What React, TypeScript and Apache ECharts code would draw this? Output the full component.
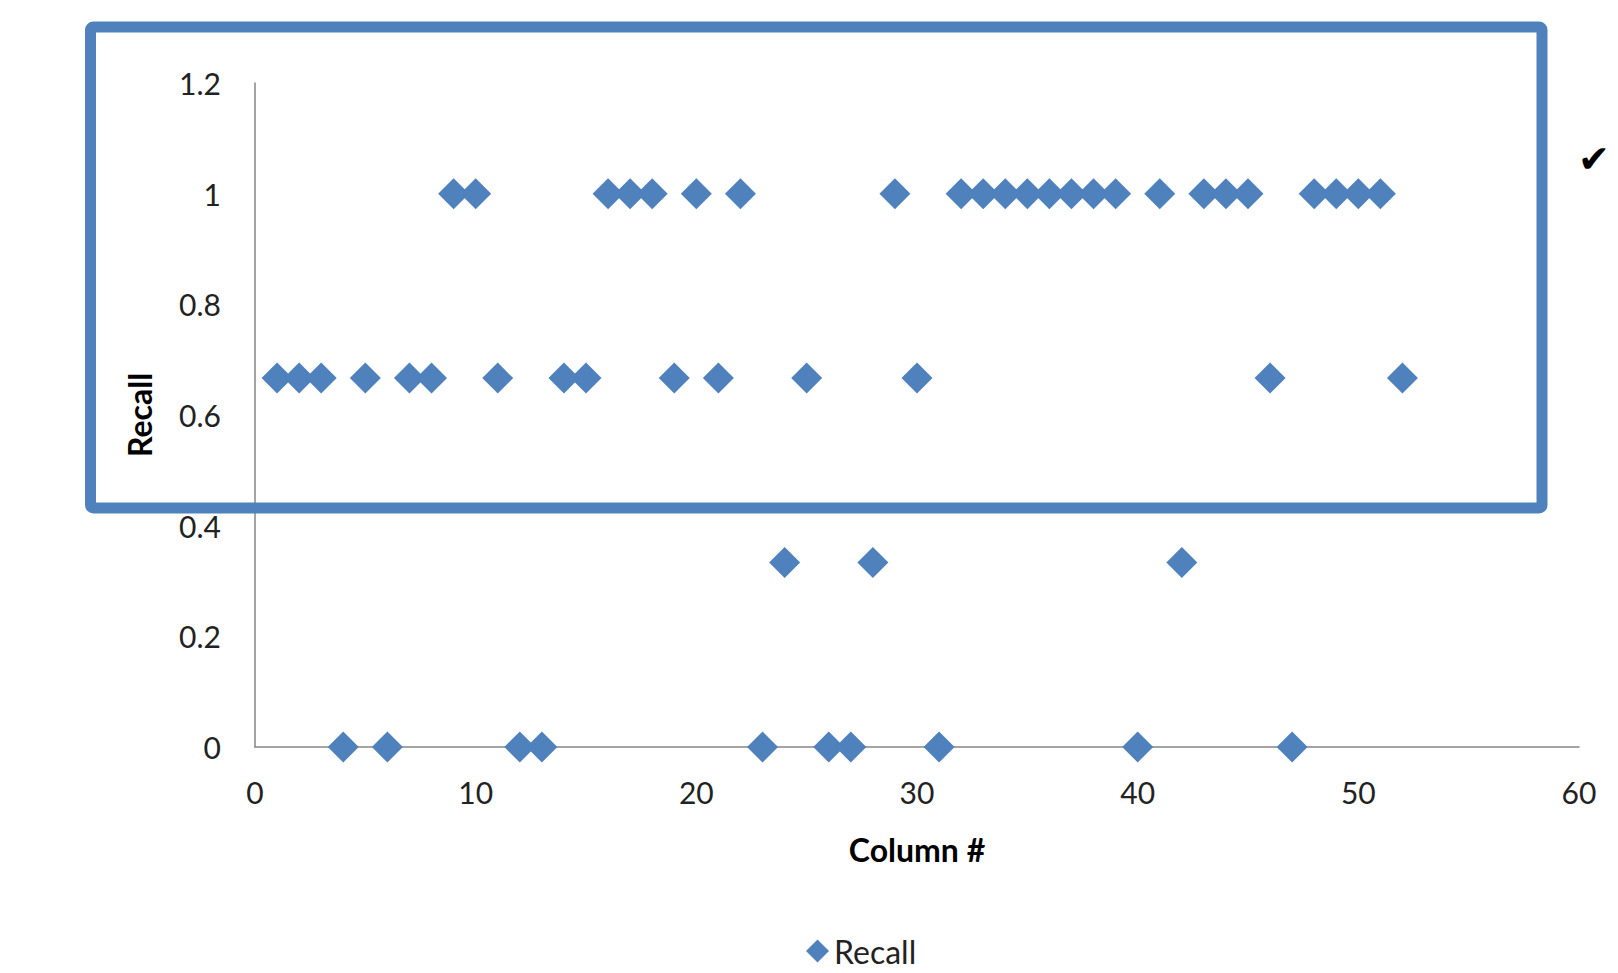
import React, { useEffect, useRef } from "react";
import * as echarts from "echarts";

const columns: number[] = [
  1, 2, 3, 4, 5, 6, 7, 8, 9, 10, 11, 12, 13, 14, 15, 16, 17, 18, 19, 20, 21, 22, 23, 24, 25, 26,
  27, 28, 29, 30, 31, 32, 33, 34, 35, 36, 37, 38, 39, 40, 41, 42, 43, 44, 45, 46, 47, 48, 49, 50, 51, 52,
];
const T = 2 / 3;
const O = 1 / 3;
const recall: number[] = [
  T, T, T, 0, T, 0, T, T, 1, 1, T, 0, 0, T, T, 1, 1, 1, T, 1, T, 1, 0, O, T, 0,
  0, O, 1, T, 0, 1, 1, 1, 1, 1, 1, 1, 1, 0, 1, O, 1, 1, 1, T, 0, 1, 1, 1, 1, T,
];
const seriesName = "Recall";
const xTitle = "Column #";
const yTitle = "Recall";
const checkMark = "✔";

export default function App() {
  const ref = useRef<HTMLDivElement>(null);
  useEffect(() => {
    if (!ref.current) return;
    const chart = echarts.init(ref.current, null, { renderer: "svg" });
    const blue = "#4F81BD";
    const font = "Lato, 'Open Sans', sans-serif";
    chart.setOption({
      animation: false,
      backgroundColor: "#ffffff",
      grid: { left: 255, right: 39, top: 83, bottom: 226 },
      xAxis: {
        type: "value",
        min: 0,
        max: 60,
        interval: 10,
        name: xTitle,
        nameLocation: "middle",
        nameGap: 86,
        nameTextStyle: { fontFamily: font, fontSize: 32, fontWeight: "bold", color: "#000" },
        axisLine: { show: true, lineStyle: { color: "#868686", width: 1.5 } },
        axisTick: { show: false },
        splitLine: { show: false },
        axisLabel: { fontFamily: font, fontSize: 30, color: "#222", margin: 30 },
      },
      yAxis: {
        type: "value",
        min: 0,
        max: 1.2,
        interval: 0.2,
        name: yTitle,
        nameLocation: "middle",
        nameGap: 100,
        nameTextStyle: { fontFamily: font, fontSize: 32, fontWeight: "bold", color: "#000" },
        axisLine: { show: true, lineStyle: { color: "#868686", width: 1.5 } },
        axisTick: { show: false },
        splitLine: { show: false },
        axisLabel: {
          fontFamily: font,
          fontSize: 30,
          color: "#222",
          margin: 34,
          formatter: (v: number) => String(Number(v.toFixed(1))),
        },
      },
      legend: {
        data: [seriesName],
        left: 801,
        top: 930,
        itemWidth: 23,
        itemHeight: 23,
        icon: "diamond",
        textStyle: { fontFamily: font, fontSize: 32, color: "#222" },
      },
      series: [
        {
          name: seriesName,
          type: "scatter",
          symbol: "diamond",
          symbolSize: 31,
          itemStyle: { color: blue, opacity: 1 },
          data: columns.map((c, i) => [c, recall[i]]),
        },
      ],
      graphic: [
        {
          type: "rect",
          z: 100,
          shape: { x: 90.5, y: 27, width: 1451.5, height: 481, r: 3 },
          style: { fill: "none", stroke: blue, lineWidth: 11 },
        },
        {
          type: "text",
          z: 100,
          left: 1578,
          top: 140,
          style: {
            text: checkMark,
            fontFamily: "DejaVu Sans",
            fontSize: 38,
            fontWeight: "bold",
            fill: "#000",
          },
        },
      ],
    });
    return () => chart.dispose();
  }, []);
  return (
    <div
      ref={ref}
      style={{ position: "absolute", left: 0, top: 0, width: 1618, height: 973 }}
    />
  );
}
